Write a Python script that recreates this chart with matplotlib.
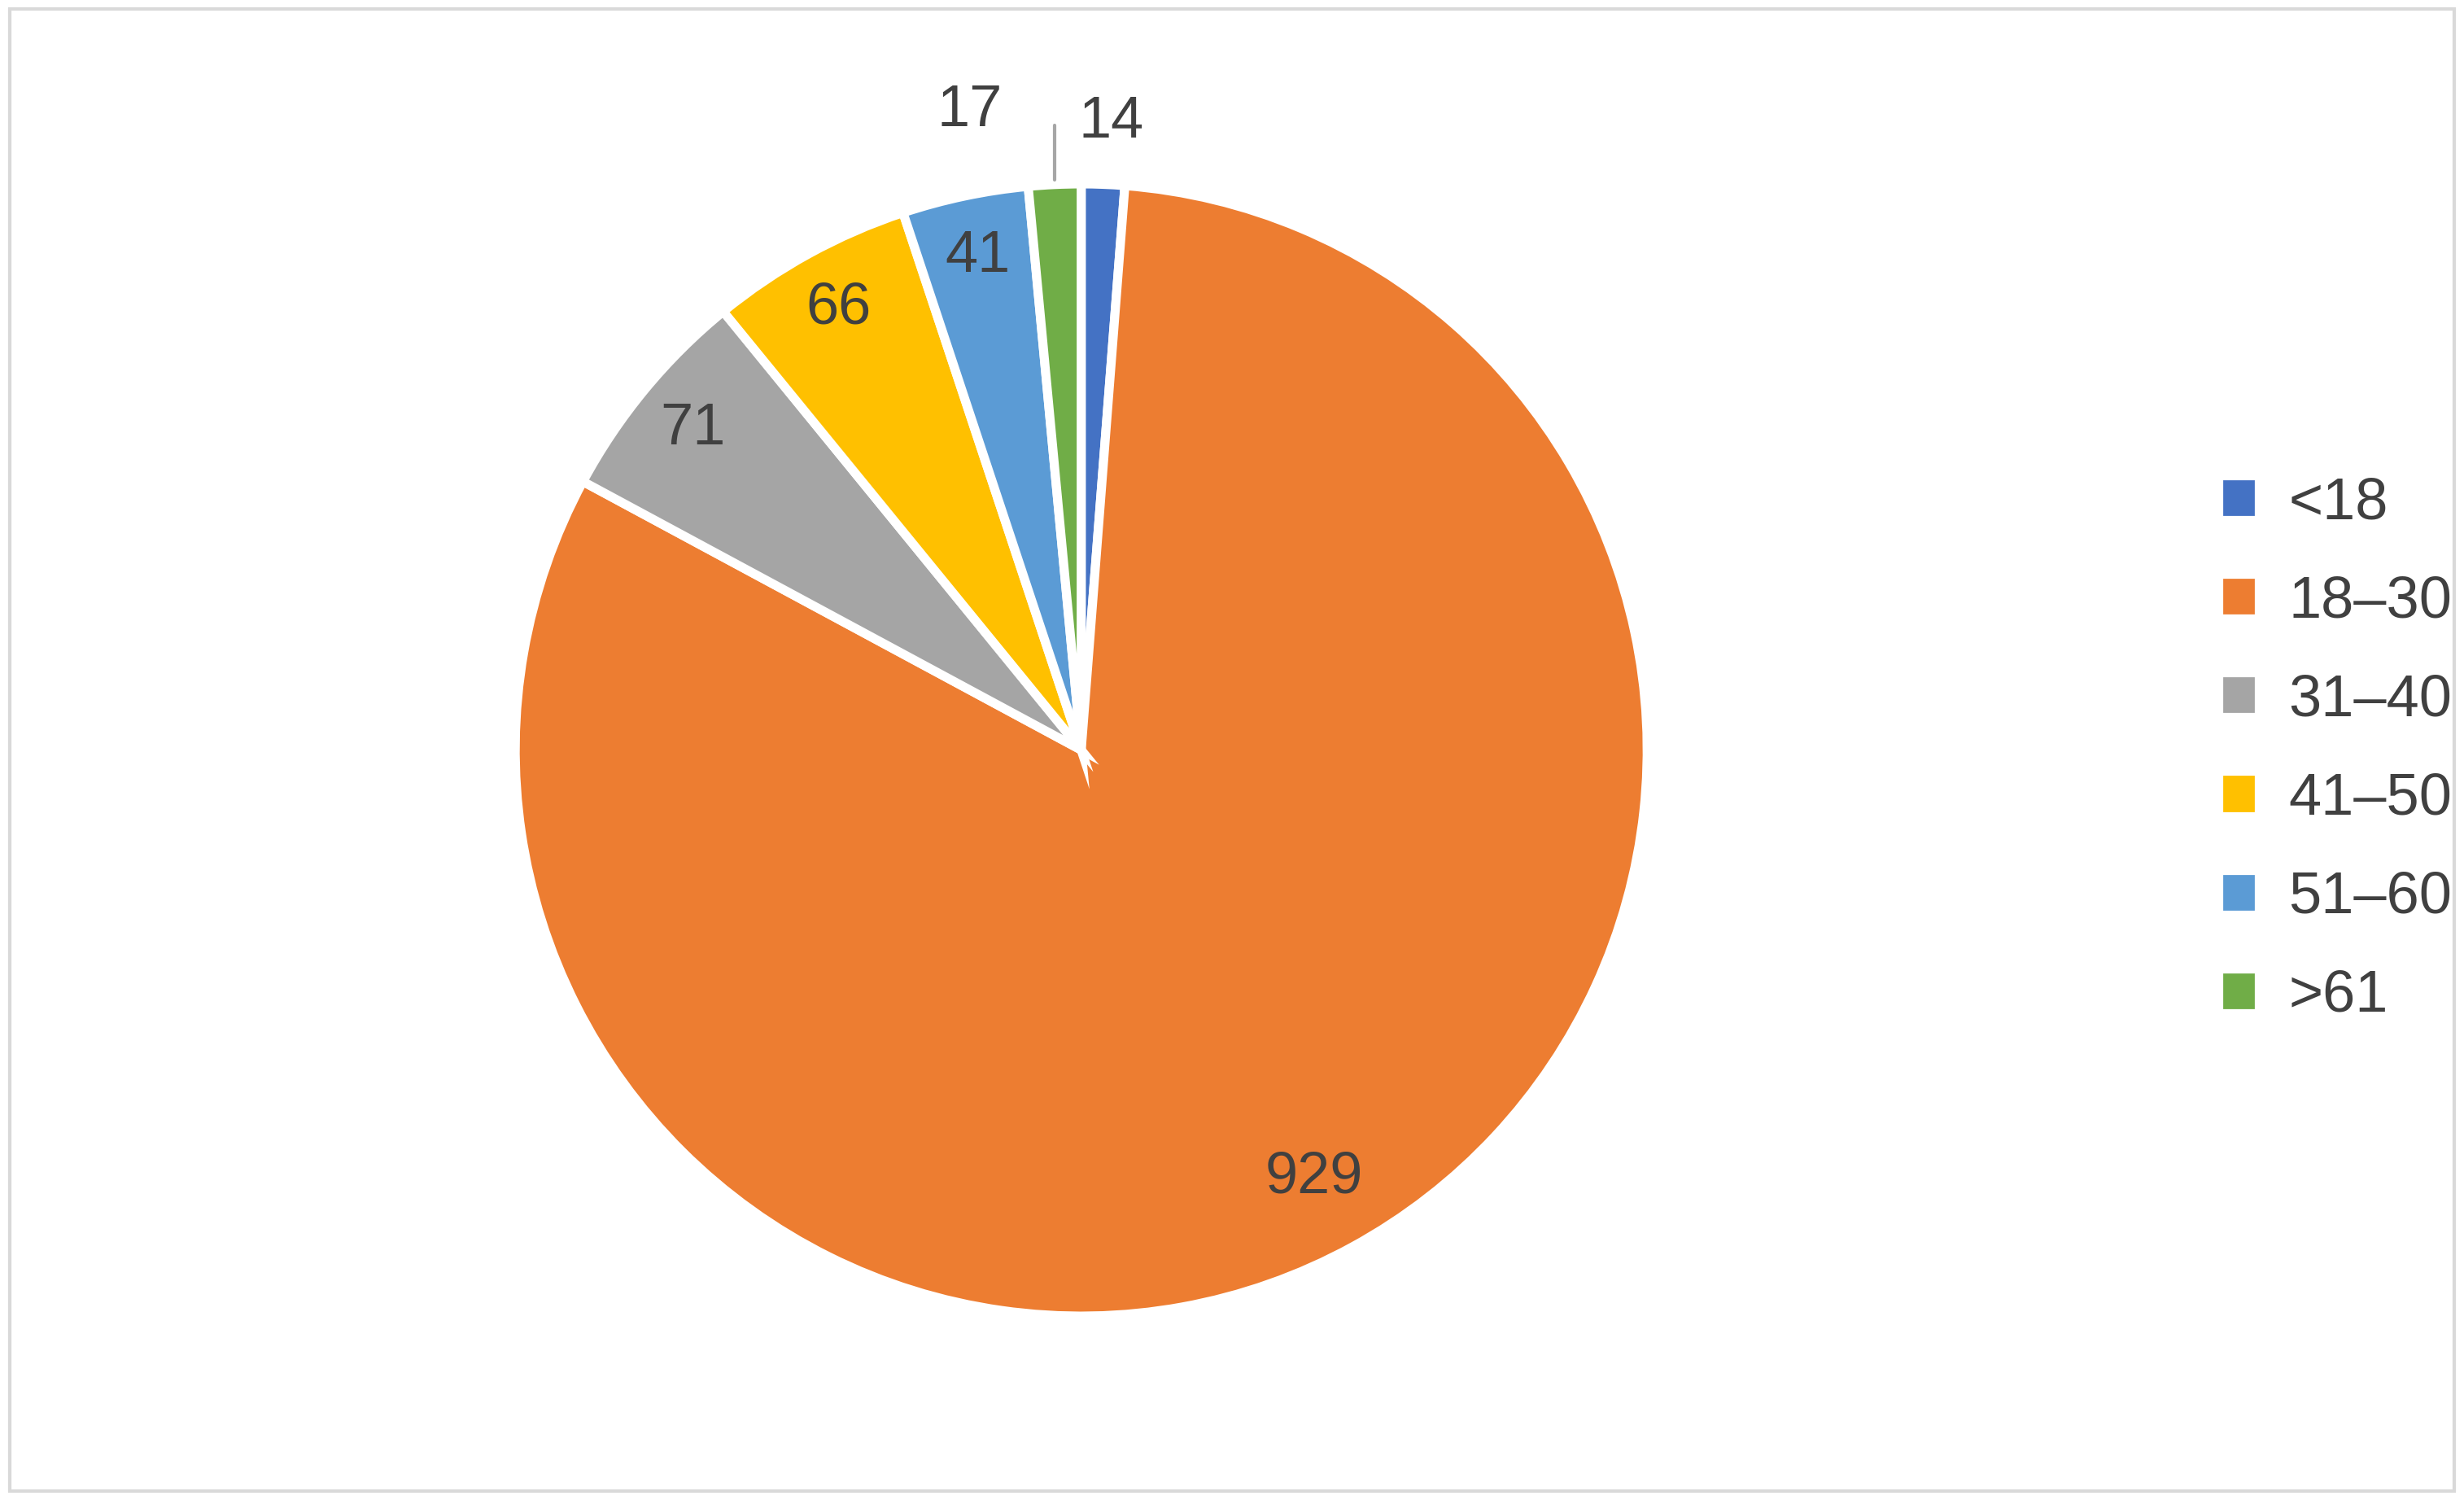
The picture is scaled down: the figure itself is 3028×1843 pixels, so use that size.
import numpy as np
import matplotlib.pyplot as plt
from matplotlib.patches import Rectangle

labels = ['<18', '18–30', '31–40', '41–50', '51–60', '>61']
values = [14, 929, 71, 66, 41, 17]
colors = ['#4472C4', '#ED7D31', '#A5A5A5', '#FFC000', '#5B9BD5', '#70AD47']

plt.rcParams['font.family'] = ['Liberation Sans', 'DejaVu Sans']
txt_color = '#404040'

fig = plt.figure(figsize=(15.14, 9.215), dpi=200)
fig.patches.append(Rectangle((0.004, 0.006), 0.992, 0.988, transform=fig.transFigure,
                             fill=False, edgecolor='#D9D9D9', linewidth=1.5))

ax = fig.add_axes([0.2091, 0.1225, 0.4594, 0.755])
wedges, _ = ax.pie(values, colors=colors, startangle=90, counterclock=False,
                   wedgeprops=dict(edgecolor='white', linewidth=4))
ax.set_xlim(-1, 1)
ax.set_ylim(-1, 1)
ax.set_aspect('equal')
ax.axis('off')

for w, v in zip(wedges, values):
    ang = np.deg2rad((w.theta1 + w.theta2) / 2)
    if v >= 30:
        r = 0.86 if v > 500 else 0.89
        ax.text(r * np.cos(ang), r * np.sin(ang), str(v), ha='center', va='center',
                fontsize=26, color=txt_color)
    elif v == 14:
        ax.text(1.11 * np.cos(ang) + 0.01, 1.11 * np.sin(ang), str(v), ha='center',
                va='center', fontsize=26, color=txt_color)
    else:
        x0, y0 = 1.0 * np.cos(ang), 1.0 * np.sin(ang)
        ax.annotate(str(v), xy=(x0, y0), xytext=(x0 - 0.15, y0 + 0.13),
                    ha='center', va='center', fontsize=26, color=txt_color,
                    annotation_clip=False,
                    arrowprops=dict(arrowstyle='-', color='#A6A6A6', lw=1.5,
                                    shrinkA=22, shrinkB=2,
                                    connectionstyle='angle,angleA=0,angleB=90,rad=0'))

handles = [plt.Rectangle((0, 0), 1, 1, color=c) for c in colors]
leg = fig.legend(handles, labels, loc='center left', bbox_to_anchor=(0.881, 0.5),
                 frameon=False, fontsize=26, labelspacing=0.75, handlelength=0.5,
                 handleheight=0.5, handletextpad=0.6, labelcolor=txt_color)

fig.savefig('out.png', dpi=200)
